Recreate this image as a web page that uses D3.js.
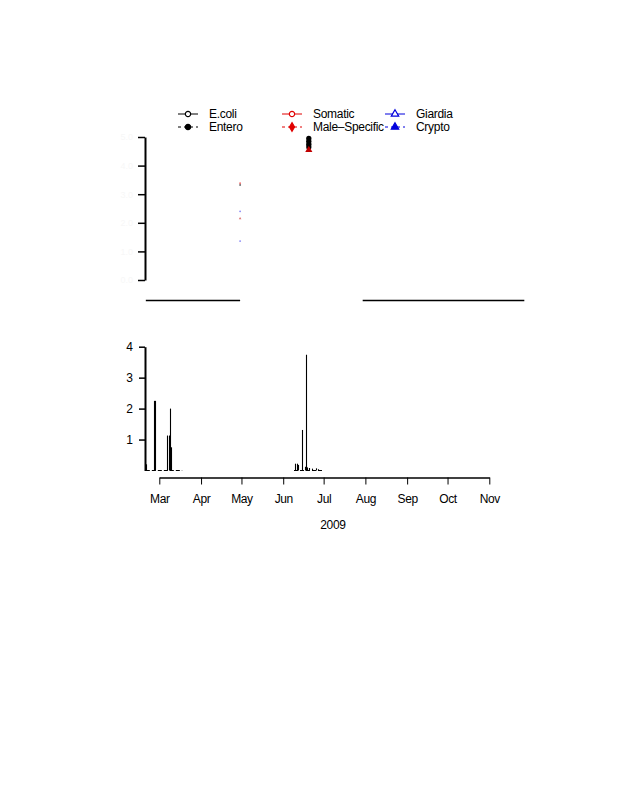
<!DOCTYPE html>
<html>
<head>
<meta charset="utf-8">
<script src="https://cdn.jsdelivr.net/npm/d3@7"></script>
<style>
  body { margin: 0; background: #fff; }
  text { font-family: "Liberation Sans", Arial, sans-serif; }
</style>
</head>
<body>
<div id="chart"></div>
<script>
// bottom panel: daily values (type "h" bars)
const barDates = ["2009-02-19", "2009-02-25", "2009-02-26", "2009-03-07", "2009-03-08", "2009-03-09", "2009-03-10",
  "2009-06-10", "2009-06-11", "2009-06-12", "2009-06-15", "2009-06-17", "2009-06-18", "2009-06-19",
  "2009-06-20", "2009-06-22", "2009-06-25", "2009-06-27"];
const barValues = [0.2, 2.25, 2.25, 1.13, 1.13, 2.0, 0.75,
  0.22, 0.22, 0.18, 1.31, 0.12, 3.74, 0.1,
  0.08, 0.06, 0.07, 0.04];
// sampling stretches shown as dashed zero line
const zeroStart = ["2009-02-19", "2009-06-09"];
const zeroEnd = ["2009-03-18", "2009-06-30"];

// top panel: markers
const topDates = ["2009-06-20", "2009-06-20", "2009-06-20", "2009-06-20", "2009-06-20",
  "2009-04-30", "2009-04-30", "2009-04-30", "2009-04-30", "2009-04-30"];
const topValues = [4.95, 4.85, 4.75, 4.65, 4.55, 3.38, 3.32, 2.4, 2.15, 1.36];
const topSeries = ["Entero", "Entero", "Entero", "Entero", "Male-Specific",
  "Somatic", "Entero", "Crypto", "Male-Specific", "Crypto"];
const topAxisFrom = ["2009-02-19", "2009-07-30"];
const topAxisTo = ["2009-04-30", "2009-11-27"];

const monthTicks = ["2009-03-01", "2009-04-01", "2009-05-01", "2009-06-01", "2009-07-01",
  "2009-08-01", "2009-09-01", "2009-10-01", "2009-11-01"];
const bottomYTicks = [1, 2, 3, 4];
const topYTicks = [0, 1, 2, 3, 4, 5];

const legendLabels = ["E.coli", "Entero", "Somatic", "Male\u2013Specific", "Giardia", "Crypto"];
const legendColors = ["#000", "#000", "#e00000", "#e00000", "#0000dd", "#0000dd"];

const parse = d3.timeParse("%Y-%m-%d");

const svg = d3.select("#chart").append("svg")
  .attr("width", 618)
  .attr("height", 800);

// shared time scale
const x = d3.scaleTime()
  .domain([parse("2009-03-01"), parse("2009-11-01")])
  .range([159.3, 489.3]);

// ---------- legend ----------
const legCols = [178, 282, 385];
const legRows = [114, 127];
const shapes = [
  { sym: d3.symbolCircle, fill: false, size: 22 },
  { sym: d3.symbolCircle, fill: true, size: 22 },
  { sym: d3.symbolCircle, fill: false, size: 22 },
  { sym: d3.symbolDiamond, fill: true, size: 22 },
  { sym: d3.symbolTriangle, fill: false, size: 24 },
  { sym: d3.symbolTriangle, fill: true, size: 24 }
];
const leg = svg.append("g");
legendLabels.forEach((lab, i) => {
  const cx = legCols[Math.floor(i / 2)], cy = legRows[i % 2];
  const dashed = i % 2 === 1;
  leg.append("line")
    .attr("x1", cx).attr("x2", cx + 20)
    .attr("y1", cy).attr("y2", cy)
    .attr("stroke", legendColors[i])
    .attr("stroke-width", 1)
    .attr("stroke-dasharray", dashed ? "3,3" : null);
  leg.append("path")
    .attr("d", d3.symbol().type(shapes[i].sym).size(shapes[i].size)())
    .attr("transform", `translate(${cx + 10},${cy})`)
    .attr("fill", shapes[i].fill ? legendColors[i] : "#fff")
    .attr("stroke", legendColors[i])
    .attr("stroke-width", 1.2);
  leg.append("text")
    .attr("x", cx + 31).attr("y", cy + 4)
    .attr("font-size", 12)
    .attr("letter-spacing", -0.3)
    .text(lab);
});

// ---------- top panel ----------
const yTop = d3.scaleLinear().domain([0, 5]).range([280, 137]);

const topAxis = svg.append("g")
  .attr("transform", "translate(145,0)")
  .call(d3.axisLeft(yTop).tickValues(topYTicks).tickSize(7).tickSizeOuter(0));
topAxis.select(".domain").attr("stroke-width", 2);
topAxis.selectAll(".tick line").attr("stroke-width", 1.5);
topAxis.selectAll("text").attr("fill", "#f7f7f7").attr("font-size", 9).attr("x", -12);

svg.append("g").selectAll("line")
  .data(topAxisFrom.map((d, i) => [parse(d), parse(topAxisTo[i])]))
  .join("line")
  .attr("x1", d => x(d[0]))
  .attr("x2", d => x(d[1]))
  .attr("y1", 300.5).attr("y2", 300.5)
  .attr("stroke", "#000")
  .attr("stroke-width", 1.5);

const seriesColor = { "E.coli": "#000", "Entero": "#000", "Somatic": "#e00000",
  "Male-Specific": "#c00000", "Giardia": "#0000dd", "Crypto": "#3333ee" };
const faint = d => parse(d.date) < parse("2009-05-15");

svg.append("g").selectAll("path")
  .data(topDates.map((d, i) => ({ date: d, v: topValues[i], s: topSeries[i] })))
  .join("path")
  .attr("d", d => d3.symbol()
    .type(d.s === "Male-Specific" ? d3.symbolTriangle : d3.symbolCircle)
    .size(faint(d) ? 3 : 22)())
  .attr("transform", d => `translate(${x(parse(d.date))},${yTop(d.v)})`)
  .attr("fill", d => seriesColor[d.s])
  .attr("opacity", d => faint(d) ? 0.55 : 1);

// ---------- bottom panel ----------
const y = d3.scaleLinear().domain([0, 4]).range([470.5, 346.7]);

const yAx = svg.append("g")
  .attr("transform", "translate(145,0)")
  .call(d3.axisLeft(y).tickValues(bottomYTicks).tickSize(6).tickSizeOuter(0)
    .tickFormat(d3.format("d")));
yAx.select(".domain").attr("stroke-width", 2);
yAx.selectAll(".tick line").attr("stroke-width", 1.5);
yAx.selectAll("text").attr("font-size", 12).attr("fill", "#000").attr("x", -12);

// dashed zero line
svg.append("g").selectAll("line")
  .data(zeroStart.map((d, i) => [parse(d), parse(zeroEnd[i])]))
  .join("line")
  .attr("x1", d => x(d[0]))
  .attr("x2", d => x(d[1]))
  .attr("y1", y(0)).attr("y2", y(0))
  .attr("stroke", "#000")
  .attr("stroke-width", 1)
  .attr("stroke-dasharray", "4,2");

// bars
svg.append("g").selectAll("line")
  .data(barDates.map((d, i) => ({ date: parse(d), v: barValues[i] })))
  .join("line")
  .attr("x1", d => Math.round(x(d.date)) + 0.5)
  .attr("x2", d => Math.round(x(d.date)) + 0.5)
  .attr("y1", y(0))
  .attr("y2", d => y(d.v))
  .attr("stroke", "#000")
  .attr("stroke-width", 1.1);

// x axis
const xAx = svg.append("g")
  .attr("transform", "translate(0,477.5)")
  .call(d3.axisBottom(x).tickValues(monthTicks.map(parse))
    .tickFormat(d3.timeFormat("%b")).tickSize(7).tickSizeOuter(0));
xAx.select(".domain").attr("stroke-width", 1.5);
xAx.selectAll("text").attr("font-size", 12).attr("fill", "#000").attr("dy", "1.3em")
  .attr("letter-spacing", -0.4);

svg.append("text")
  .attr("x", 333).attr("y", 529)
  .attr("text-anchor", "middle")
  .attr("font-size", 12)
  .attr("letter-spacing", -0.3)
  .text("2009");
</script>
</body>
</html>
